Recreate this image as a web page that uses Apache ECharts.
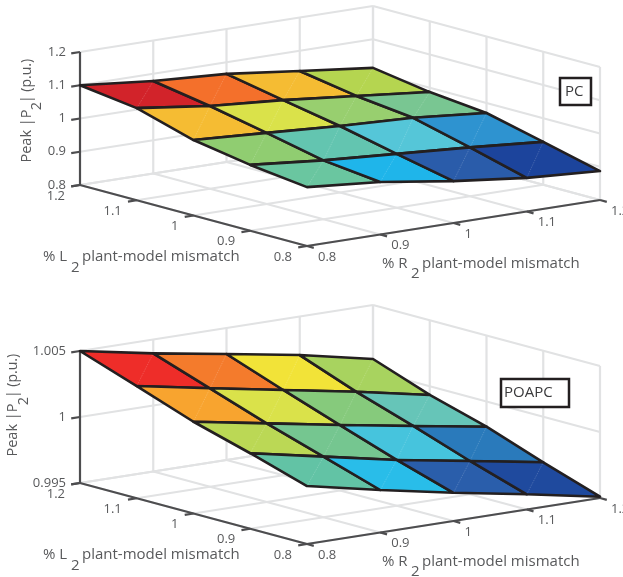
<!DOCTYPE html>
<html><head><meta charset="utf-8">
<style>html,body{margin:0;padding:0;background:#fff}#c{width:623px;height:577px}</style>
<script src="https://cdn.jsdelivr.net/npm/echarts@6/dist/echarts.min.js"></script>
</head><body><div id="c"></div>
<script>
// ---- data ----
const lTicks = [1.2, 1.1, 1.0, 0.9, 0.8];
const rTicks = [0.8, 0.9, 1.0, 1.1, 1.2];
const lLabels = ['1.2', '1.1', '1', '0.9', '0.8'];
const rLabels = ['0.8', '0.9', '1', '1.1', '1.2'];
const pcZTicks = [0.8, 0.9, 1.0, 1.1, 1.2];
const pcZLabels = ['0.8', '0.9', '1', '1.1', '1.2'];
const poapcZTicks = [0.995, 1.0, 1.005];
const poapcZLabels = ['0.995', '1', '1.005'];
// rows: L = 1.2 .. 0.8, columns: R = 0.8 .. 1.2
const pcPeak = [
  [1.100, 1.078, 1.065, 1.039, 1.014],
  [1.077, 1.049, 1.032, 1.010, 0.987],
  [1.027, 1.014, 1.000, 0.990, 0.970],
  [0.998, 0.977, 0.962, 0.947, 0.929],
  [0.977, 0.958, 0.926, 0.901, 0.887]
];
const poapcPeak = [
  [1.00500, 1.00395, 1.00303, 1.00208, 1.00091],
  [1.00350, 1.00246, 1.00146, 1.00045, 0.99934],
  [1.00195, 1.00096, 0.99996, 0.99902, 0.99809],
  [1.00072, 0.99959, 0.99847, 0.99752, 0.99655],
  [0.99939, 0.99822, 0.99714, 0.99615, 0.99510]
];
const pcCellColors = [
  ['#D2232A', '#F4702B', '#F5BC33', '#B5D550'],
  ['#F5BC33', '#DAE24A', '#98CF6F', '#79C692'],
  ['#90CD71', '#63C5B0', '#55C6D8', '#2E93D0'],
  ['#6AC6A0', '#1FB5EA', '#2A5CAA', '#1C449C']
];
const poapcCellColors = [
  ['#EE2D29', '#F47B2C', '#F2E338', '#A8D35F'],
  ['#F8A42F', '#DAE24A', '#86CA7C', '#66C5B8'],
  ['#BBD855', '#75C690', '#46C4DD', '#2A7ABB'],
  ['#62C3A5', '#29BDE9', '#2A5EAB', '#1F4A9E']
];
// ---- style / layout ----
const FONT = '"Open Sans", "Noto Sans", sans-serif';
const TXT = '#58595B';
const BOX_W = 520, BOX_H = 239;       // projected extent of the 3-D box
const E_R = [293, 46], E_L = [227, -61];

function panel(idx, top, zSpan, zTicks, zLabels, peak, colors) {
  const zMin = zTicks[0], zMax = zTicks[zTicks.length - 1];
  const lMax = lTicks[0], lMin = lTicks[4], rMin = rTicks[0], rMax = rTicks[4];
  const project = (api, L, R, Z) => {
    const ln = (lMax - L) / (lMax - lMin), rn = (R - rMin) / (rMax - rMin), zn = (Z - zMin) / (zMax - zMin);
    return api.coord([E_R[0] * rn + E_L[0] * ln, 61 + E_R[1] * rn + E_L[1] * ln + zSpan * zn]);
  };
  // gridlines on the two back walls and the floor
  const grid = [];
  rTicks.forEach(R => {
    grid.push([lMax, R, zMin, lMin, R, zMin]);
    if (R > rMin) grid.push([lMax, R, zMin, lMax, R, zMax]);
  });
  lTicks.forEach(L => {
    grid.push([L, rMin, zMin, L, rMax, zMin]);
    grid.push([L, rMax, zMin, L, rMax, zMax]);
  });
  zTicks.forEach(Z => {
    grid.push([lMax, rMin, Z, lMax, rMax, Z]);
    grid.push([lMax, rMax, Z, lMin, rMax, Z]);
  });
  // dark axes + ticks
  const tickR = 0.012, axes = [
    [lMax, rMin, zMin, lMax, rMin, zMax],
    [lMax, rMin, zMin, lMin, rMin, zMin],
    [lMin, rMin, zMin, lMin, rMax, zMin]
  ];
  zTicks.forEach(Z => axes.push([lMax, rMin, Z, lMax, rMin - tickR, Z]));
  lTicks.forEach(L => axes.push([L, rMin, zMin, L, rMin - tickR, zMin]));
  rTicks.forEach(R => axes.push([lMin, R, zMin, lMin - tickR, R, zMin]));
  const segItem = (color, width) => (params, api) => {
    const a = project(api, api.value(0), api.value(1), api.value(2));
    const b = project(api, api.value(3), api.value(4), api.value(5));
    return { type: 'line', shape: { x1: a[0], y1: a[1], x2: b[0], y2: b[1] }, style: { stroke: color, lineWidth: width, fill: null } };
  };
  // surface cells
  const cells = [];
  for (let i = 0; i < 4; i++) for (let j = 0; j < 4; j++) {
    cells.push([lTicks[i], lTicks[i + 1], rTicks[j], rTicks[j + 1],
      peak[i][j], peak[i][j + 1], peak[i + 1][j + 1], peak[i + 1][j]]);
  }
  const cellItem = (params, api) => {
    const L0 = api.value(0), L1 = api.value(1), R0 = api.value(2), R1 = api.value(3);
    const pts = [
      project(api, L0, R0, api.value(4)), project(api, L0, R1, api.value(5)),
      project(api, L1, R1, api.value(6)), project(api, L1, R0, api.value(7))
    ];
    const i = Math.floor(params.dataIndex / 4), j = params.dataIndex % 4;
    return { type: 'group', children: [
      { type: 'polygon', shape: { points: pts }, style: { fill: colors[i][j], stroke: null } },
      { type: 'line', shape: { x1: pts[1][0], y1: pts[1][1], x2: pts[3][0], y2: pts[3][1] },
        style: { stroke: 'rgba(255,255,255,0.4)', lineWidth: 0.5, lineDash: [1, 1], fill: null } },
      { type: 'polygon', shape: { points: pts }, style: { fill: null, stroke: '#231F20', lineWidth: 2.6, lineJoin: 'round' } }
    ] };
  };
  // tick labels: [L, R, Z, dx, dy], text looked up by index
  const labelTexts = [], labelData = [], labelAlign = [];
  zTicks.forEach((Z, k) => { labelData.push([lMax, rMin, Z, -14, 0]); labelTexts.push(zLabels[k]); labelAlign.push('right'); });
  lTicks.forEach((L, k) => { labelData.push([L, rMin, zMin, -15, 11]); labelTexts.push(lLabels[k]); labelAlign.push('right'); });
  rTicks.forEach((R, k) => { labelData.push([lMin, R, zMin, 11, 11]); labelTexts.push(rLabels[k]); labelAlign.push('left'); });
  const labelItem = (params, api) => {
    const p = project(api, api.value(0), api.value(1), api.value(2));
    return { type: 'text', style: { text: labelTexts[params.dataIndex], x: p[0] + api.value(3), y: p[1] + api.value(4),
      textAlign: labelAlign[params.dataIndex], textVerticalAlign: 'middle', fill: TXT, font: '13px ' + FONT } };
  };
  const base = { type: 'custom', xAxisIndex: idx, yAxisIndex: idx, clip: false, silent: true, animation: false };
  return {
    grid: { left: 80, top: top, width: BOX_W, height: BOX_H, show: false },
    xAxis: { type: 'value', gridIndex: idx, min: 0, max: BOX_W, show: false },
    yAxis: { type: 'value', gridIndex: idx, min: 0, max: BOX_H, show: false },
    series: [
      Object.assign({}, base, { name: 'grid' + idx, data: grid, renderItem: segItem('#E1E2E3', 2.2), z: 1 }),
      Object.assign({}, base, { name: 'axes' + idx, data: axes, renderItem: segItem('#4D4D4F', 2.2), z: 2 }),
      Object.assign({}, base, { name: 'labels' + idx, data: labelData, renderItem: labelItem, z: 3 }),
      Object.assign({}, base, { name: idx ? 'POAPC' : 'PC', data: cells, renderItem: cellItem, z: 4 })
    ]
  };
}

const p0 = panel(0, 7, 133, pcZTicks, pcZLabels, pcPeak, pcCellColors);
const p1 = panel(1, 305, 132, poapcZTicks, poapcZLabels, poapcPeak, poapcCellColors);

const T = (text, x, y, size, extra) => ({ type: 'text', x: x, y: y, z: 10, rotation: extra && extra.rotation || 0,
  style: { text: text, fill: (extra && extra.fill) || TXT, font: size + 'px ' + FONT,
    textAlign: (extra && extra.align) || 'left', textVerticalAlign: 'middle' } });
const R90 = { rotation: Math.PI / 2, align: 'center' };

function titles(dy, zx, subx, y1, y2, y3) {
  return [
    T('% L', 43, 257 + dy, 15),
    T('2', 71, 268 + dy, 15),
    T('plant-model mismatch', 82, 257 + dy, 15),
    T('% R', 382, 264 + dy, 15),
    T('2', 411, 274 + dy, 15),
    T('plant-model mismatch', 422, 264 + dy, 15),
    T('Peak |P', zx, y1, 14.5, R90),
    T('2', subx, y2, 14.5, R90),
    T('| (p.u.)', zx, y3, 14, R90)
  ];
}
function box(x, y, w, h, text, tx) {
  return [
    { type: 'rect', z: 9, shape: { x: x, y: y, width: w, height: h }, style: { fill: '#fff', stroke: '#231F20', lineWidth: 2.5 } },
    T(text, tx, y + h / 2, 15, { fill: '#3A3A3C' })
  ];
}

const option = {
  backgroundColor: '#fff',
  animation: false,
  tooltip: { show: false },
  grid: [p0.grid, p1.grid],
  xAxis: [p0.xAxis, p1.xAxis],
  yAxis: [p0.yAxis, p1.yAxis],
  series: p0.series.concat(p1.series),
  graphic: { elements: [].concat(
    titles(0, 27, 37, 136, 106, 81), titles(298, 13, 24, 430, 401, 376),
    box(560, 78, 31, 27, 'PC', 565), box(501, 379, 68, 28, 'POAPC', 504)
  ) }
};
const chart = echarts.init(document.getElementById('c'), null, { renderer: 'canvas' });
chart.setOption(option);
</script></body></html>
